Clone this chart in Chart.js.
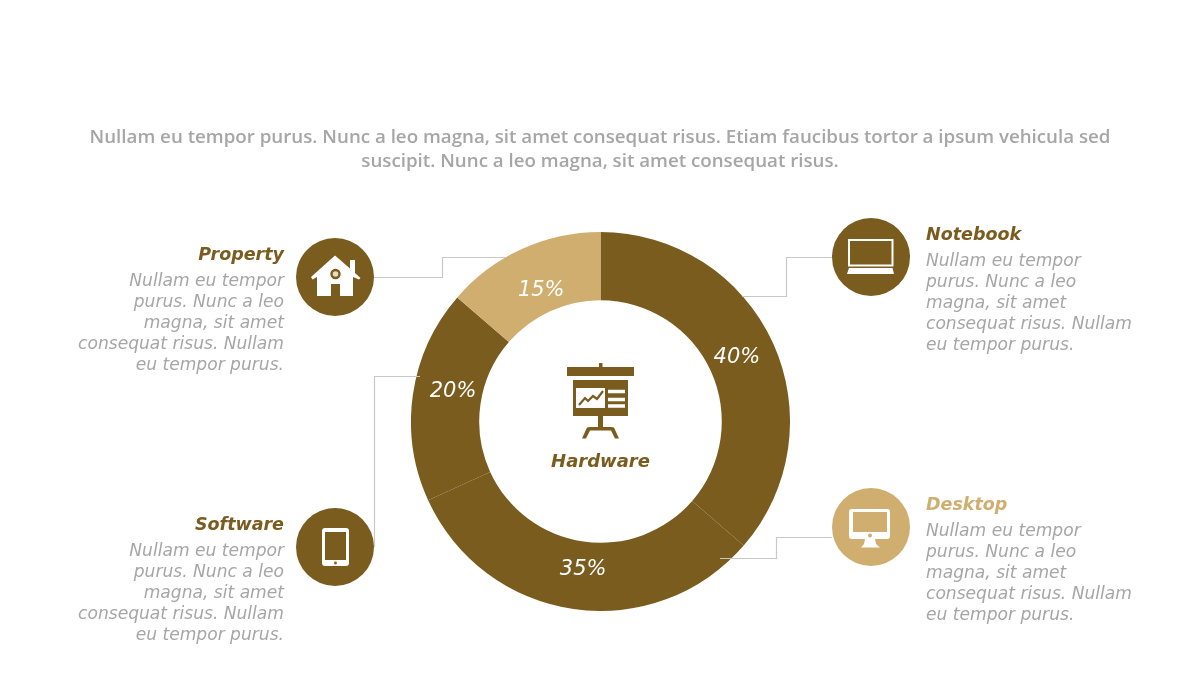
<!DOCTYPE html>
<html lang="en">
<head>
    <meta charset="UTF-8">
    <title>Hardware</title>
    <script src="https://cdn.jsdelivr.net/npm/chart.js@4.4.0/dist/chart.umd.min.js"></script>
    <style>
        * {
            box-sizing: border-box;
        }
        body {
            margin: 0;
            width: 1200px;
            height: 675px;
            position: relative;
            overflow: hidden;
            background-color: #fff;
        }
        #ring {
            position: absolute;
            left: 411px;
            top: 232px;
        }
        svg {
            position: absolute;
            left: 0;
            top: 0;
        }
        .intro {
            position: absolute;
            left: 0;
            top: 124px;
            width: 1200px;
            text-align: center;
            font: 600 18.73px/24px "Open Sans", sans-serif;
            color: #a6a6a6;
        }
        .block {
            position: absolute;
            width: 230px;
            font-family: "DejaVu Sans", sans-serif;
            font-style: oblique;
        }
        .block.left {
            left: 54px;
            text-align: right;
        }
        .block.right {
            left: 926px;
        }
        .block h2 {
            margin: 0 0 3px;
            font-size: 17.5px;
            line-height: 26px;
            font-weight: bold;
        }
        .block p {
            margin: 0;
            font-size: 17.1px;
            line-height: 21px;
            color: #a6a6a6;
        }
        .center-label {
            position: absolute;
            left: 500px;
            width: 201px;
            top: 448px;
            text-align: center;
            font: oblique bold 18px/26px "DejaVu Sans", sans-serif;
            color: #7a5c1e;
        }
    </style>
</head>
<body>
    <canvas id="ring" width="379" height="379"></canvas>

    <svg width="1200" height="675" fill="none">
        <g stroke="#c8c8c8" stroke-width="1.2">
            <path d="M374 277.5H442.5V257.5H505"/>
            <path d="M374.5 547V376.5H420"/>
            <path d="M742 296.5H786.5V257.5H832"/>
            <path d="M720 558.5H776.5V537.5H832"/>
        </g>

        <circle cx="335" cy="277" r="39" fill="#7a5c1e"/>
        <circle cx="335" cy="547" r="39" fill="#7a5c1e"/>
        <circle cx="871" cy="257" r="39" fill="#7a5c1e"/>
        <circle cx="871" cy="527" r="39" fill="#cfae70"/>

        <!-- house -->
        <path d="M311 277L335 255.5L350 268.5V260H355V273L360.5 278L359 279.5L353 277V296H317V277L312.5 279.5Z" fill="#fff"/>
        <rect x="331" y="284" width="9" height="12" fill="#7a5c1e"/>
        <circle cx="335.5" cy="274" r="4" fill="#e9dcc3" stroke="#7a5c1e" stroke-width="2.4"/>

        <!-- tablet -->
        <path d="M325 528H346Q349 528 349 531V563Q349 566 346 566H325Q322 566 322 563V531Q322 528 325 528ZM325 532V560H346V532Z" fill="#fff" fill-rule="evenodd"/>
        <circle cx="335.5" cy="563" r="1.4" fill="#7a5c1e"/>

        <!-- notebook -->
        <rect x="849" y="240" width="43.5" height="25.5" stroke="#fff" stroke-width="2"/>
        <path d="M849 268H892.5L894 274H847Z" fill="#fff"/>

        <!-- desktop -->
        <path d="M852 509H887Q890 509 890 512V536Q890 539 887 539H852Q849 539 849 536V512Q849 509 852 509ZM853 512V532H887V512Z" fill="#fff" fill-rule="evenodd"/>
        <path d="M865 539H875L876 544L880 547.5H861L864 544Z" fill="#fff"/>
        <circle cx="870" cy="535.5" r="2" fill="#cfae70"/>

        <!-- presentation board -->
        <path d="M567 367H599V363H602.5V367H634V376H567Z" fill="#7a5c1e"/>
        <rect x="573" y="380" width="55" height="36" fill="#7a5c1e"/>
        <rect x="576" y="388" width="29" height="20" fill="#fff"/>
        <path d="M608 391.5H625M608 399.5H625M608 406H625" stroke="#fff" stroke-width="3.4"/>
        <path d="M579 405L585 398L588 401L593 396L597 399L603 391" stroke="#7a5c1e" stroke-width="2.2"/>
        <path d="M598 416H603V427H611L614 427.5L619 438.5H615L611 430.5H590L586 438.5H582L587 427.5L590 427H598Z" fill="#7a5c1e"/>
    </svg>

    <div class="intro">Nullam eu tempor purus. Nunc a leo magna, sit amet consequat risus. Etiam faucibus tortor a ipsum vehicula sed<br>suscipit. Nunc a leo magna, sit amet consequat risus.</div>

    <div class="center-label">Hardware</div>

    <div class="block left" style="top: 241px">
        <h2 style="color: #7a5c1e">Property</h2>
        <p>Nullam eu tempor<br>purus. Nunc a leo<br>magna, sit amet<br>consequat risus. Nullam<br>eu tempor purus.</p>
    </div>
    <div class="block left" style="top: 511px">
        <h2 style="color: #7a5c1e">Software</h2>
        <p>Nullam eu tempor<br>purus. Nunc a leo<br>magna, sit amet<br>consequat risus. Nullam<br>eu tempor purus.</p>
    </div>
    <div class="block right" style="top: 221px">
        <h2 style="color: #7a5c1e">Notebook</h2>
        <p>Nullam eu tempor<br>purus. Nunc a leo<br>magna, sit amet<br>consequat risus. Nullam<br>eu tempor purus.</p>
    </div>
    <div class="block right" style="top: 491px">
        <h2 style="color: #cfae70">Desktop</h2>
        <p>Nullam eu tempor<br>purus. Nunc a leo<br>magna, sit amet<br>consequat risus. Nullam<br>eu tempor purus.</p>
    </div>

    <script>
        const categories = ['Notebook', 'Desktop', 'Software', 'Property'];
        const shares = [40, 35, 20, 15];
        const sliceColors = ['#7a5c1e', '#7a5c1e', '#7a5c1e', '#cfae70'];

        // no datalabels plugin here, so write the percentages on the ring by hand
        const shareLabels = {
            id: 'shareLabels',
            afterDatasetsDraw(chart) {
                // the labels sit a bit off the slice middle in the original
                const nudge = [[0, -2], [4, 0], [1, -9], [3, 5]];
                const ctx = chart.ctx;
                ctx.save();
                ctx.font = 'oblique 21px "DejaVu Sans"';
                ctx.fillStyle = '#fff';
                ctx.textAlign = 'center';
                ctx.textBaseline = 'middle';
                chart.getDatasetMeta(0).data.forEach(function(arc, i) {
                    const mid = (arc.startAngle + arc.endAngle) / 2;
                    const r = arc.innerRadius + (arc.outerRadius - arc.innerRadius) * 0.42;
                    ctx.fillText(shares[i] + '%', arc.x + Math.cos(mid) * r + nudge[i][0], arc.y + Math.sin(mid) * r + nudge[i][1]);
                });
                ctx.restore();
            }
        };

        new Chart(document.getElementById('ring'), {
            type: 'doughnut',
            data: {
                labels: categories,
                datasets: [{
                    data: shares,
                    backgroundColor: sliceColors,
                    borderWidth: 0
                }]
            },
            options: {
                responsive: false,
                animation: false,
                cutout: '64%',
                plugins: {
                    legend: { display: false },
                    tooltip: { enabled: false }
                }
            },
            plugins: [shareLabels]
        });
    </script>
</body>
</html>
